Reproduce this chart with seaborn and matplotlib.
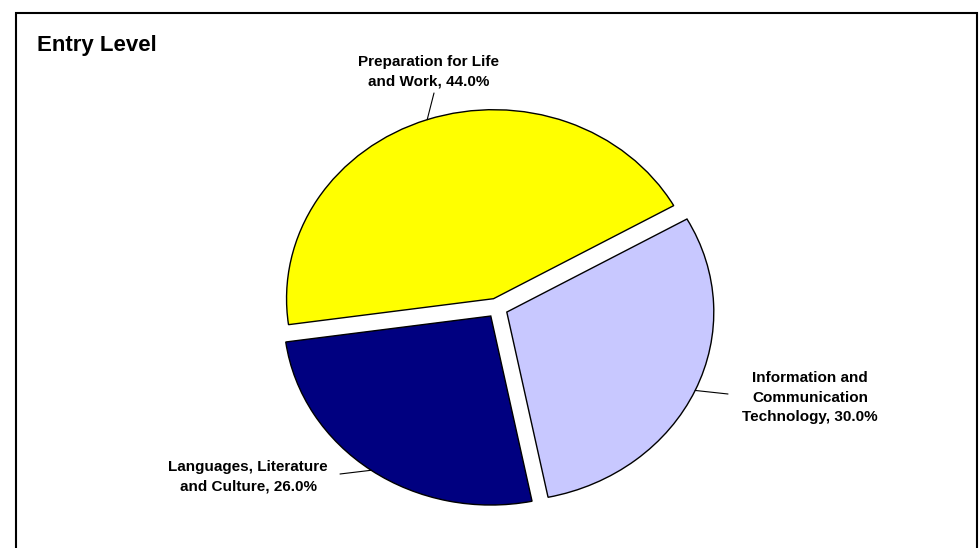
import numpy as np
import matplotlib
matplotlib.use("Agg")
import matplotlib.pyplot as plt
import matplotlib.patches as mpatches
import seaborn as sns

# ---- data ----
categories = ["Preparation for Life\nand Work", "Languages, Literature\nand Culture",
              "Information and\nCommunication\nTechnology"]
values = [44.0, 26.0, 30.0]
colors = ["#FFFF00", "#000080", "#C8C8FF"]
title = "Entry Level"

sns.set_theme(style="white")
plt.rcParams["font.family"] = ["Liberation Sans", "DejaVu Sans"]
plt.rcParams["text.color"] = "black"

W, H = 980, 548
fig = plt.figure(figsize=(W / 100, H / 100), dpi=100)
fig.patch.set_facecolor("white")

# pie axes: ellipse centre (497,308) px, rx=207, ry=189
cx, cy = 497, 308
rx, ry = 207, 189
L = 1.2
ax = fig.add_axes([(cx - rx * L) / W, (H - cy - ry * L) / H, 2 * rx * L / W, 2 * ry * L / H])
startangle = 29.5
explode = [0.052] * len(values)
wedges, _ = ax.pie(values, colors=colors, startangle=startangle, counterclock=True,
                   explode=explode,
                   wedgeprops=dict(edgecolor="black", linewidth=1.0))
ax.set_aspect("auto")
ax.set_xlim(-L, L)
ax.set_ylim(-L, L)
ax.axis("off")

# labels (figure pixel coordinates for text centres, leader-line ends)
label_pos = [(429, 476), (248, 71), (810, 150)]
line_end = [(434, 548 - 93), (340, 548 - 474), (728, 548 - 394)]
for w, cat, val, lp, le, ex in zip(wedges, categories, values, label_pos, line_end, explode):
    theta = np.deg2rad((w.theta1 + w.theta2) / 2)
    px = np.cos(theta) * (1 + ex)
    py = np.sin(theta) * (1 + ex)
    ax.annotate("", xy=(px, py), xycoords="data", xytext=le, textcoords="figure pixels",
                arrowprops=dict(arrowstyle="-", lw=0.8, color="black", shrinkA=0, shrinkB=0))
    fig.text(lp[0] / W, lp[1] / H, f"{cat}, {val:.1f}%", ha="center", va="center",
             multialignment="center", fontsize=11, fontweight="bold", linespacing=1.5,
             color="black")

fig.text(37 / W, (H - 45) / H, title, ha="left", va="center", fontsize=16,
         fontweight="bold", color="black")

# outer frame
frame = mpatches.Rectangle((16 / W, -10 / H), 961 / W, (H - 13 + 10) / H,
                           transform=fig.transFigure, fill=False, edgecolor="black",
                           linewidth=1.5, clip_on=False)
fig.patches.append(frame)

fig.savefig("out.png", dpi=100, facecolor="white")
